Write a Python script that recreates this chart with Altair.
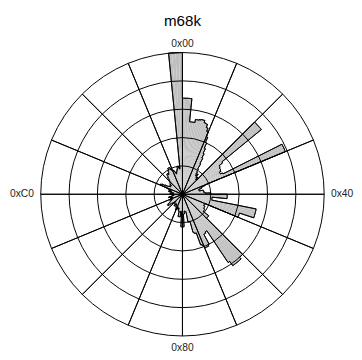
import math
import altair as alt
import pandas as pd

TITLE = "m68k"

# Byte-frequency histogram, radial units (outer ring = 5), 16 bytes per row (one 22.5° sector)
freq_00 = [3.39, 3.39, 3.39, 3.39, 2.57, 2.57, 2.57, 2.68, 2.68, 2.70, 2.72, 2.72, 2.64, 2.62, 2.50, 2.38]
freq_10 = [2.20, 2.00, 1.80, 1.62, 1.45, 1.25, 1.05, 0.95, 0.85, 0.80, 0.90, 0.80, 0.75, 0.80, 0.70, 0.75]
freq_20 = [3.60, 3.60, 3.60, 3.60, 1.80, 1.65, 1.62, 1.60, 1.60, 1.58, 1.52, 1.52, 1.60, 3.93, 3.93, 3.93]
freq_30 = [0.85, 0.75, 0.70, 0.70, 0.60, 0.60, 0.60, 0.60, 0.75, 0.75, 0.75, 0.75, 0.80, 0.80, 1.00, 1.00]
freq_40 = [1.58, 1.58, 1.58, 1.58, 1.05, 1.05, 1.05, 1.05, 2.65, 2.65, 2.65, 2.65, 2.65, 2.12, 2.12, 2.12]
freq_50 = [0.85, 0.85, 0.85, 0.85, 0.90, 0.90, 0.90, 0.90, 0.95, 0.95, 0.95, 0.95, 1.20, 1.20, 1.20, 1.20]
freq_60 = [3.00, 3.00, 3.08, 3.08, 3.08, 3.08, 3.08, 2.90, 1.55, 1.55, 1.60, 1.60, 2.00, 2.05, 2.05, 2.05]
freq_70 = [1.95, 1.90, 1.45, 1.45, 1.40, 1.00, 1.00, 1.00, 0.62, 0.62, 0.60, 0.60, 0.70, 0.70, 1.15, 1.15]
freq_80 = [1.15, 1.15, 0.65, 0.60, 0.80, 0.80, 0.80, 0.80, 0.60, 0.60, 0.50, 0.50, 0.55, 0.50, 0.50, 0.45]
freq_90 = [0.60, 0.55, 0.50, 0.50, 0.45, 0.45, 0.40, 0.40, 0.50, 0.50, 0.45, 0.45, 0.40, 0.40, 0.35, 0.35]
freq_a0 = [0.40, 0.45, 0.50, 0.50, 0.60, 0.65, 0.65, 0.60, 0.55, 0.50, 0.50, 0.45, 0.45, 0.40, 0.45, 0.50]
freq_b0 = [0.45, 0.40, 0.40, 0.35, 0.40, 0.45, 0.50, 0.50, 0.40, 0.35, 0.35, 0.30, 0.30, 0.35, 0.40, 0.40]
freq_c0 = [0.45, 0.40, 0.35, 0.35, 0.30, 0.35, 0.40, 0.45, 0.50, 0.50, 0.40, 0.40, 0.45, 0.50, 0.55, 0.60]
freq_d0 = [0.85, 0.85, 0.80, 0.70, 0.60, 0.55, 0.50, 0.50, 0.50, 0.55, 0.55, 0.50, 0.55, 0.60, 0.60, 0.60]
freq_e0 = [0.65, 0.70, 0.75, 0.80, 0.85, 0.90, 0.90, 0.85, 0.90, 0.95, 1.00, 1.05, 1.05, 1.05, 0.95, 0.90]
freq_f0 = [0.90, 0.90, 0.85, 0.80, 0.75, 0.80, 0.85, 0.90, 1.00, 1.00, 0.95, 0.90, 5.00, 5.00, 5.00, 5.00]

byte_freq = (freq_00 + freq_10 + freq_20 + freq_30 + freq_40 + freq_50 + freq_60 + freq_70
             + freq_80 + freq_90 + freq_a0 + freq_b0 + freq_c0 + freq_d0 + freq_e0 + freq_f0)

tick_bytes = [0, 64, 128, 192]
tick_labels = ["0x00", "0x40", "0x80", "0xC0"]
ring_levels = [1, 2, 3, 4, 5]
spoke_bytes = list(range(0, 256, 16))

# layout
CX, CY = 178.5, 186.5
R = 145
RMAX = 5
FONT = "Liberation Sans"

n = len(byte_freq)
bars_df = pd.DataFrame({
    "b": list(range(n)),
    "t1": [i + 1 for i in range(n)],
    "r": byte_freq,
})
step_rows = []
for i in range(n):
    prev = byte_freq[i - 1]
    cur = byte_freq[i]
    if prev != cur:
        step_rows.append({"b": i, "lo": min(prev, cur), "hi": max(prev, cur)})
steps_df = pd.DataFrame(step_rows)
rings_df = pd.DataFrame({"level": ring_levels})
spokes_df = pd.DataFrame({"b": spoke_bytes, "outer": [ring_levels[-1]] * len(spoke_bytes)})
ticks_df = pd.DataFrame({"b": tick_bytes, "label": tick_labels})

theta_scale = alt.Scale(domain=[0, 256], range=[0, 2 * math.pi])
radius_scale = alt.Scale(type="linear", domain=[0, RMAX], range=[0, R], zero=True)
cx = alt.value(CX)
cy = alt.value(CY)


def th(field):
    return alt.Theta(field, scale=theta_scale, stack=False)


def rad(field):
    return alt.Radius(field, scale=radius_scale, stack=False)


bars = alt.Chart(bars_df).mark_arc(color="#bfbfbf").encode(
    theta=th("b:Q"), theta2="t1:Q", radius=rad("r:Q"), x=cx, y=cy,
)

outer_edges = alt.Chart(bars_df).mark_arc(fillOpacity=0, stroke="black", strokeWidth=0.9).encode(
    theta=th("b:Q"), theta2="t1:Q", radius=rad("r:Q"), radius2="r:Q", x=cx, y=cy,
)

step_edges = alt.Chart(steps_df).mark_arc(fillOpacity=0, stroke="black", strokeWidth=0.9).encode(
    theta=th("b:Q"), theta2="b:Q", radius=rad("hi:Q"), radius2="lo:Q", x=cx, y=cy,
)

rings = alt.Chart(rings_df).mark_arc(fillOpacity=0, stroke="black", strokeWidth=1).encode(
    theta=alt.value(0), theta2=alt.value(2 * math.pi), radius=rad("level:Q"), x=cx, y=cy,
)

spokes = alt.Chart(spokes_df).mark_arc(fillOpacity=0, stroke="black", strokeWidth=1).encode(
    theta=th("b:Q"), theta2="b:Q", radius=rad("outer:Q"), x=cx, y=cy,
)

label_base = alt.Chart(ticks_df)
label_style = dict(font=FONT, fontSize=10.5, color="#222", baseline="middle")
labels_t = label_base.transform_filter("datum.b == 0").mark_text(
    align="center", radius=154, **label_style
).encode(theta=th("b:Q"), text="label:N", x=cx, y=cy)
labels_b = label_base.transform_filter("datum.b == 128").mark_text(
    align="center", radius=157, **label_style
).encode(theta=th("b:Q"), text="label:N", x=cx, y=cy)
labels_r = label_base.transform_filter("datum.b == 64").mark_text(
    align="left", radius=152, **label_style
).encode(theta=th("b:Q"), text="label:N", x=cx, y=cy)
labels_l = label_base.transform_filter("datum.b == 192").mark_text(
    align="right", radius=152, **label_style
).encode(theta=th("b:Q"), text="label:N", x=cx, y=cy)

title = alt.Chart(pd.DataFrame({"t": [TITLE]})).mark_text(
    font=FONT, fontSize=15.5, color="black", align="center", baseline="alphabetic"
).encode(text="t:N", x=alt.value(CX), y=alt.value(14.7))

chart = alt.layer(
    bars, outer_edges, step_edges, rings, spokes, labels_t, labels_b, labels_r, labels_l, title
).properties(
    width=354, height=352,
    autosize=alt.AutoSizeParams(type="none"),
    padding=0,
).configure_view(stroke=None)

chart.save("out.html", embed_options={"renderer": "svg", "actions": False})
